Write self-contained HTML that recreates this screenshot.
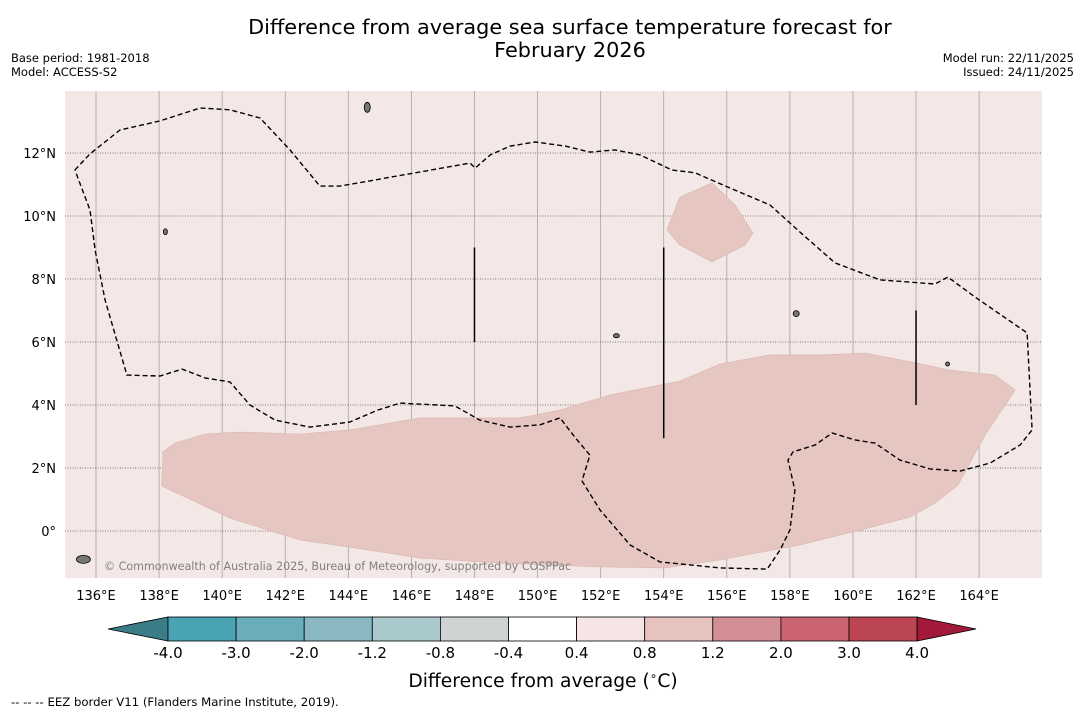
<!DOCTYPE html>
<html><head><meta charset="utf-8"><style>
body{margin:0;background:#fff;width:1085px;height:713px;overflow:hidden;font-family:"DejaVu Sans","Liberation Sans",sans-serif;}
svg text{font-family:"DejaVu Sans","Liberation Sans",sans-serif;}
</style></head><body>
<svg width="1085" height="713" id="chart">
<text x="570" y="34" font-size="20.8" text-anchor="middle">Difference from average sea surface temperature forecast for</text>
<text x="570" y="57" font-size="20.8" text-anchor="middle">February 2026</text>
<text x="11" y="62" font-size="11.5">Base period: 1981-2018</text>
<text x="11" y="76" font-size="11.5">Model: ACCESS-S2</text>
<text x="1074" y="62" font-size="11.5" text-anchor="end">Model run: 22/11/2025</text>
<text x="1074" y="76" font-size="11.5" text-anchor="end">Issued: 24/11/2025</text>
<rect x="65" y="91" width="977" height="487" fill="#f3e8e6"/>
<g id="grid"></g>
<g id="regions"></g>
<g id="eez"></g>
<g id="marks"></g>
<text x="104" y="570" font-size="11.1" fill="#808080">© Commonwealth of Australia 2025, Bureau of Meteorology, supported by COSPPac</text>
<g id="axes"></g>
<g id="colorbar"></g>
<text x="543" y="687" font-size="18.7" text-anchor="middle">Difference from average (<tspan font-size="12" dy="-7">∘</tspan><tspan dy="7">C)</tspan></text>
<text x="11" y="706" font-size="11.7">-- -- -- EEZ border V11 (Flanders Marine Institute, 2019).</text>
</svg>
<script>
const lonTicks=[136,138,140,142,144,146,148,150,152,154,156,158,160,162,164];
const latTicks=[0,2,4,6,8,10,12];
const eezBorder=[[135.33,11.46],[135.81,11.97],[136.76,12.73],[138.03,13.02],[139.3,13.43],[140.25,13.37],[141.2,13.11],[142.15,12.1],[143.1,10.95],[143.74,10.95],[147.86,11.68],[148.02,11.52],[148.5,11.94],[149.13,12.22],[149.93,12.35],[150.88,12.22],[151.66,12.03],[152.46,12.1],[153.25,11.94],[154.26,11.46],[154.99,11.37],[156.1,10.89],[157.37,10.35],[158.32,9.49],[159.43,8.51],[160.86,7.97],[162.6,7.84],[163.01,8.06],[163.87,7.43],[165.52,6.29],[165.68,3.21],[165.3,2.73],[164.35,2.16],[163.39,1.9],[162.44,1.97],[161.49,2.25],[160.7,2.79],[160.07,2.89],[159.34,3.11],[158.8,2.73],[158.1,2.51],[157.94,2.25],[158.16,1.3],[158.0,0.03],[157.69,-0.6],[157.28,-1.21],[155.78,-1.17],[153.88,-0.98],[152.93,-0.44],[151.98,0.67],[151.41,1.59],[151.66,2.41],[151.18,2.98],[150.71,3.59],[150.08,3.37],[149.13,3.3],[148.17,3.52],[147.38,3.97],[145.64,4.06],[144.94,3.84],[144.05,3.46],[142.78,3.3],[141.68,3.52],[140.88,4.0],[140.25,4.73],[139.46,4.86],[138.73,5.14],[138.03,4.92],[136.98,4.95],[136.29,7.33],[135.97,8.92],[135.81,10.19],[135.33,11.46]];
const warmRegionSouth=[[138.12,2.51],[138.5,2.79],[139.46,3.08],[140.57,3.14],[142.47,3.08],[144.05,3.21],[146.27,3.59],[147.86,3.59],[149.44,3.59],[150.71,3.84],[152.3,4.32],[154.51,4.76],[155.78,5.3],[157.37,5.59],[158.95,5.59],[160.38,5.65],[161.81,5.37],[163.07,5.11],[164.5,4.95],[165.14,4.48],[164.19,3.05],[163.33,1.46],[162.6,0.89],[161.81,0.44],[160.22,0.03],[158.32,-0.44],[155.78,-0.92],[154.04,-1.17],[151.98,-1.14],[148.81,-1.02],[146.27,-0.86],[144.05,-0.51],[142.47,-0.29],[140.25,0.41],[138.09,1.43]];
const warmRegionNorth=[[154.51,10.6],[155.53,11.05],[156.26,10.35],[156.83,9.46],[156.58,9.08],[155.53,8.54],[154.51,9.08],[154.1,9.56]];
const eezSegLon=[148,154,162];
const eezSegTop=[9.0,9.0,7.0];
const eezSegBottom=[6.0,2.95,4.0];
const cbLabels=["-4.0","-3.0","-2.0","-1.2","-0.8","-0.4","0.4","0.8","1.2","2.0","3.0","4.0"];
const cbColors=["#4aa3b3","#6aaebb","#89b8c3","#a9c9cd","#d0d3d3","#ffffff","#f5e6e5","#e6c3bf","#d48f95","#c8636f","#bc4553"];
const NS="http://www.w3.org/2000/svg";
const X=lon=>96+(lon-136)*31.54;
const Y=lat=>531-lat*31.5;
function mk(tag,attrs,parent){const e=document.createElementNS(NS,tag);for(const k in attrs)e.setAttribute(k,attrs[k]);document.getElementById(parent).appendChild(e);return e;}
lonTicks.forEach(l=>{const e=mk('line',{x1:X(l),x2:X(l),y1:91,y2:578,stroke:'#000','stroke-opacity':0.3,'stroke-width':0.8},'grid');


const t=mk('text',{x:X(l),y:600,'font-size':13,'text-anchor':'middle'},'axes');t.textContent=l+'°E';

});
latTicks.forEach(l=>{const e=mk('line',{x1:65,x2:1042,y1:Y(l),y2:Y(l),stroke:'#555','stroke-width':0.8,'stroke-dasharray':'1,1.5'},'grid');


const t=mk('text',{x:56,y:Y(l)+5,'font-size':13,'text-anchor':'end'},'axes');t.textContent=l===0?'0°':l+'°N';

});
const pts=a=>a.map(p=>X(p[0]).toFixed(1)+','+Y(p[1]).toFixed(1)).join(' ');
let r=mk('polygon',{points:pts(warmRegionSouth),fill:'#e6c6c1',stroke:'#d9b5b0','stroke-width':0.6},'regions');


r=mk('polygon',{points:pts(warmRegionNorth),fill:'#e6c6c1',stroke:'#d9b5b0','stroke-width':0.6},'regions');


r=mk('polyline',{points:pts(eezBorder),fill:'none',stroke:'#000','stroke-width':1.4,'stroke-dasharray':'5,3'},'eez');


eezSegLon.forEach((l,i)=>{const e=mk('line',{x1:X(l),x2:X(l),y1:Y(eezSegTop[i]),y2:Y(eezSegBottom[i]),stroke:'#000','stroke-width':1.5},'eez');

});
[[144.6,13.45,3,5],[135.6,-0.9,7,4],[158.2,6.9,3,3],[152.5,6.2,3,2],[138.2,9.5,2,3],[163,5.3,2,2]].forEach(p=>{const e=mk('ellipse',{cx:X(p[0]),cy:Y(p[1]),rx:p[2],ry:p[3],fill:'#777',stroke:'#000','stroke-width':0.8},'marks');

});
const cx0=168,cw=68.1,cy=617,ch=24;
let tip=mk('polygon',{points:`108,${cy+ch/2} ${cx0},${cy} ${cx0},${cy+ch}`,fill:'#3a7d87',stroke:'#000','stroke-width':0.8},'colorbar');


cbColors.forEach((c,i)=>{const e=mk('rect',{x:cx0+i*cw,y:cy,width:cw,height:ch,fill:c,stroke:'#000','stroke-width':0.8},'colorbar');

});
const xe=cx0+cbColors.length*cw;
tip=mk('polygon',{points:`${xe},${cy} 976,${cy+ch/2} ${xe},${cy+ch}`,fill:'#a3193a',stroke:'#000','stroke-width':0.8},'colorbar');


cbLabels.forEach((s,i)=>{const t=mk('text',{x:cx0+i*cw,y:658,'font-size':15,'text-anchor':'middle'},'colorbar');t.textContent=s;

});
</script>
</body></html>
